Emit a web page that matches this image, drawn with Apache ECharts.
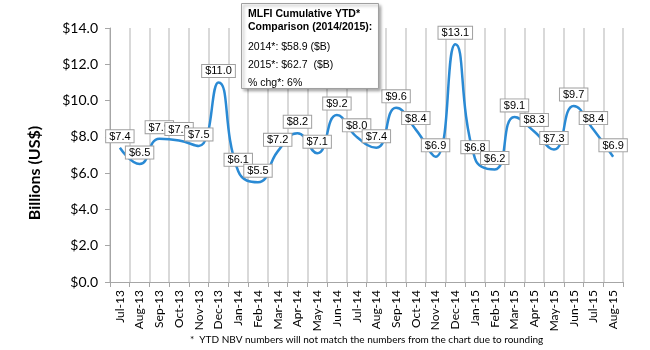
<!DOCTYPE html>
<html>
<head>
<meta charset="utf-8">
<script src="https://cdn.jsdelivr.net/npm/echarts@6/dist/echarts.min.js"></script>
<style>
  html, body { margin: 0; padding: 0; background: #fff; }
  #chart { width: 650px; height: 350px; }
</style>
</head>
<body>
<div id="chart"></div>
<script>
const months = ['Jul-13', 'Aug-13', 'Sep-13', 'Oct-13', 'Nov-13', 'Dec-13', 'Jan-14', 'Feb-14', 'Mar-14', 'Apr-14', 'May-14', 'Jun-14', 'Jul-14',
  'Aug-14', 'Sep-14', 'Oct-14', 'Nov-14', 'Dec-14', 'Jan-15', 'Feb-15', 'Mar-15', 'Apr-15', 'May-15', 'Jun-15', 'Jul-15', 'Aug-15']
const nbv = [7.4, 6.5, 7.9, 7.8, 7.5, 11.0, 6.1, 5.5, 7.2, 8.2, 7.1, 9.2, 8.0,
  7.4, 9.6, 8.4, 6.9, 13.1, 6.8, 6.2, 9.1, 8.3, 7.3, 9.7, 8.4, 6.9]

const yTitle = 'Billions (US$)'
const boxTitle = ['MLFI Cumulative YTD*', 'Comparison (2014/2015):']
const boxLines = ['2014*: $58.9 ($B)', '2015*: $62.7  ($B)', '% chg*: 6%']
const footnote = '*  YTD NBV numbers will not match the numbers from the chart due to rounding'

const chart = echarts.init(document.getElementById('chart'))

const option = {
  animation: false,
  grid: { left: 110, right: 27, top: 28, bottom: 68 },
  xAxis: {
    type: 'category',
    data: months,
    boundaryGap: true,
    axisLine: { lineStyle: { color: '#a6a6a6', width: 1 } },
    axisTick: { show: true, length: 5, lineStyle: { color: '#a6a6a6' } },
    splitLine: { show: true, lineStyle: { color: '#d9d9d9', width: 2 } },
    axisLabel: {
      rotate: 90,
      interval: 0,
      margin: 8,
      fontFamily: 'Lato',
      fontSize: 12,
      color: '#000',
    },
  },
  yAxis: {
    type: 'value',
    min: 0,
    max: 14,
    interval: 2,
    axisLine: { show: true, lineStyle: { color: '#a6a6a6' } },
    axisTick: { show: true, length: 5, lineStyle: { color: '#a6a6a6' } },
    splitLine: { show: false },
    axisLabel: {
      margin: 12,
      fontFamily: 'Lato',
      fontSize: 14,
      color: '#000',
      formatter: v => '$' + v.toFixed(1),
    },
  },
  series: [
    {
      type: 'line',
      data: nbv,
      smooth: 0.5,
      symbol: 'circle',
      symbolSize: 1,
      itemStyle: { color: 'rgba(0,0,0,0)' },
      lineStyle: { color: '#2a8ad4', width: 2.5 },
      label: {
        show: true,
        position: 'top',
        distance: 5,
        formatter: p => '$' + p.value.toFixed(1),
        fontFamily: 'Liberation Sans',
        fontSize: 11,
        color: '#000',
        backgroundColor: '#fff',
        borderColor: '#a0a0a0',
        borderWidth: 1,
        padding: [1, 3, 0, 3],
      },
    },
  ],
  graphic: [
    {
      type: 'text',
      x: 35,
      y: 173,
      rotation: Math.PI / 2,
      style: {
        text: yTitle,
        font: 'bold 16px Lato',
        fill: '#000',
        align: 'center',
        verticalAlign: 'middle',
      },
    },
    {
      type: 'rect',
      left: 241,
      top: 3,
      shape: { width: 137, height: 85 },
      style: {
        fill: '#fff',
        stroke: '#a0a0a0',
        lineWidth: 1,
        shadowBlur: 3,
        shadowOffsetX: 2,
        shadowOffsetY: 2,
        shadowColor: 'rgba(0,0,0,0.35)',
      },
      z: 10,
    },
    {
      type: 'text',
      left: 248,
      top: 8,
      style: {
        text: boxTitle.join('\n'),
        font: 'bold 10.5px "Liberation Sans"',
        lineHeight: 13,
        fill: '#000',
      },
      z: 11,
    },
    {
      type: 'text',
      left: 248,
      top: 38,
      style: {
        text: boxLines.join('\n'),
        font: '10.5px "Liberation Sans"',
        lineHeight: 18,
        fill: '#000',
      },
      z: 11,
    },
    {
      type: 'text',
      left: 190,
      top: 335,
      style: {
        text: footnote,
        font: '10px Lato',
        fill: '#000',
      },
    },
  ],
}

chart.setOption(option)
</script>
</body>
</html>
